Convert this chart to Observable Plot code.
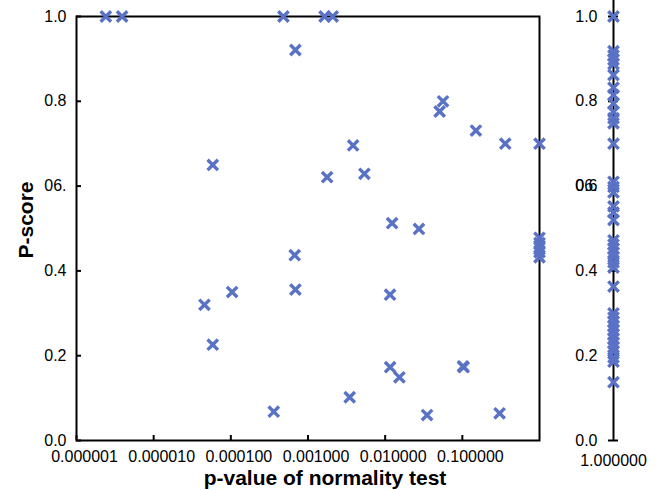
<!DOCTYPE html>
<html>
<head>
<meta charset="utf-8">
<script src="https://cdn.jsdelivr.net/npm/d3@7"></script>
<script src="https://cdn.jsdelivr.net/npm/@observablehq/plot@0.6"></script>
<style>
  html, body { margin: 0; padding: 0; background: white; }
  #chart { position: relative; width: 660px; height: 490px; background: white; font-family: 'Liberation Sans', Arial, sans-serif; }
  #chart svg { position: absolute; top: 0; overflow: visible; }
  .title { position: absolute; font-weight: bold; font-size: 21px; white-space: nowrap; color: black; line-height: 1; }
  #ytitle { left: 25px; top: 220px; transform: translate(-50%, -50%) rotate(-90deg); }
  #xtitle { left: 325px; top: 477px; transform: translate(-50%, -50%); }
</style>
</head>
<body>
<div id="chart"></div>
<script>
// ---- data ----
const leftX = [2.4e-6, 3.9e-6, 4.8e-4, 1.64e-3, 2.09e-3, 6.87e-4, 5.83e-5, 1.77e-3, 3.84e-3, 5.38e-3,
  0.0123, 0.0274, 6.73e-4, 6.87e-4, 0.01156, 0.0116, 0.0153, 3.47e-3, 3.6e-4, 0.0349,
  4.55e-5, 5.83e-5, 1.04e-4, 0.104, 0.102, 0.304, 0.0562, 0.0508, 0.150, 0.360,
  1, 1, 1, 1, 1, 1];
const leftY = [1.0, 1.0, 1.0, 1.0, 1.0, 0.921, 0.650, 0.621, 0.696, 0.629,
  0.5125, 0.499, 0.437, 0.356, 0.344, 0.173, 0.149, 0.102, 0.068, 0.060,
  0.320, 0.226, 0.350, 0.173, 0.175, 0.064, 0.800, 0.776, 0.731, 0.700,
  0.700, 0.478, 0.466, 0.455, 0.444, 0.432];
const rightPValue = 1;
const rightY = [1.0, 0.918, 0.908, 0.898, 0.888, 0.862, 0.832, 0.815, 0.795, 0.775, 0.760, 0.748,
  0.700, 0.610, 0.598, 0.585, 0.552, 0.538, 0.520, 0.472, 0.462, 0.452, 0.443, 0.433, 0.420, 0.408,
  0.363, 0.300, 0.290, 0.280, 0.270, 0.260, 0.250, 0.240, 0.230, 0.220, 0.210, 0.196, 0.186, 0.1375];

const xTicks = [1e-6, 1e-5, 1e-4, 1e-3, 1e-2, 1e-1];
const xTickLabels = ["0.000001", "0.000010", "0.000100", "0.001000", "0.010000", "0.100000"];
const yTicks = [0, 0.2, 0.4, 0.6, 0.8, 1.0];
const yTickLabelsLeft = ["0.0", "0.2", "0.4", "06.", "0.8", "1.0"];
const yTickLabelsRight = ["0.0", "0.2", "0.4", "0.6", "0.8", "1.0"];
const rightExtraTick = [0.6];
const rightExtraLabel = ["06."];
const rightXTicks = [1];
const rightXTickLabels = ["1.000000"];
const xTitle = "p-value of normality test";
const yTitle = "P-score";

const markerColor = "#5a72c6";
const font = "'Liberation Sans', Arial, sans-serif";
const baseStyle = {fontFamily: font, fontSize: "16px", color: "black", background: "transparent", overflow: "visible"};

const leftData = leftX.map((x, i) => ({x, y: leftY[i]}));
const rightData = rightY.map(y => ({x: rightPValue, y}));

const left = Plot.plot({
  width: 560, height: 490,
  marginLeft: 76, marginRight: 21, marginTop: 16, marginBottom: 50,
  style: baseStyle,
  x: {type: "log", domain: [1e-6, 1]},
  y: {domain: [0, 1]},
  marks: [
    Plot.frame({stroke: "black", strokeWidth: 2}),
    Plot.axisX(xTicks, {tickSize: 5, dy: -5, strokeWidth: 2, tickFormat: () => "", label: null}),
    Plot.axisX(xTicks, {tickSize: 0, tickPadding: 10, dx: 8, fontSize: 16, tickFormat: d => xTickLabels[xTicks.indexOf(d)], label: null}),
    Plot.axisY(yTicks, {tickSize: 5, dx: 5, strokeWidth: 2, tickFormat: () => "", label: null}),
    Plot.axisY(yTicks, {tickSize: 0, tickPadding: 10, fontSize: 16, tickFormat: d => yTickLabelsLeft[yTicks.indexOf(d)], label: null}),
    Plot.dot(leftData, {x: "x", y: "y", symbol: "times", r: 4.8, stroke: markerColor, strokeWidth: 3.4})
  ]
});
left.style.left = "0px";

const right = Plot.plot({
  width: 100, height: 490,
  marginLeft: 53, marginRight: 27, marginTop: 16, marginBottom: 50,
  style: baseStyle,
  x: {domain: [1, 2]},
  y: {domain: [0, 1]},
  marks: [
    Plot.ruleX([rightPValue], {y1: 0, y2: 1.04, stroke: "black", strokeWidth: 2}),
    Plot.axisY(yTicks, {tickSize: 10, dx: 5, strokeWidth: 2, tickFormat: () => "", label: null}),
    Plot.axisY(yTicks, {tickSize: 0, tickPadding: 16, fontSize: 16, tickFormat: d => yTickLabelsRight[yTicks.indexOf(d)], label: null}),
    Plot.axisY(rightExtraTick, {tickSize: 0, tickPadding: 16, fontSize: 16, tickFormat: (d) => rightExtraLabel[rightExtraTick.indexOf(d)], label: null}),
    Plot.axisX(rightXTicks, {tickSize: 0, tickPadding: 14, fontSize: 16, tickFormat: d => rightXTickLabels[rightXTicks.indexOf(d)], label: null}),
    Plot.dot(rightData, {x: "x", y: "y", symbol: "times", r: 4.8, stroke: markerColor, strokeWidth: 3.4})
  ]
});
right.style.left = "560px";

const chart = document.getElementById("chart");
chart.appendChild(left);
chart.appendChild(right);

const yt = document.createElement("div");
yt.className = "title"; yt.id = "ytitle"; yt.textContent = yTitle;
const xt = document.createElement("div");
xt.className = "title"; xt.id = "xtitle"; xt.textContent = xTitle;
chart.appendChild(yt);
chart.appendChild(xt);
</script>
</body>
</html>
